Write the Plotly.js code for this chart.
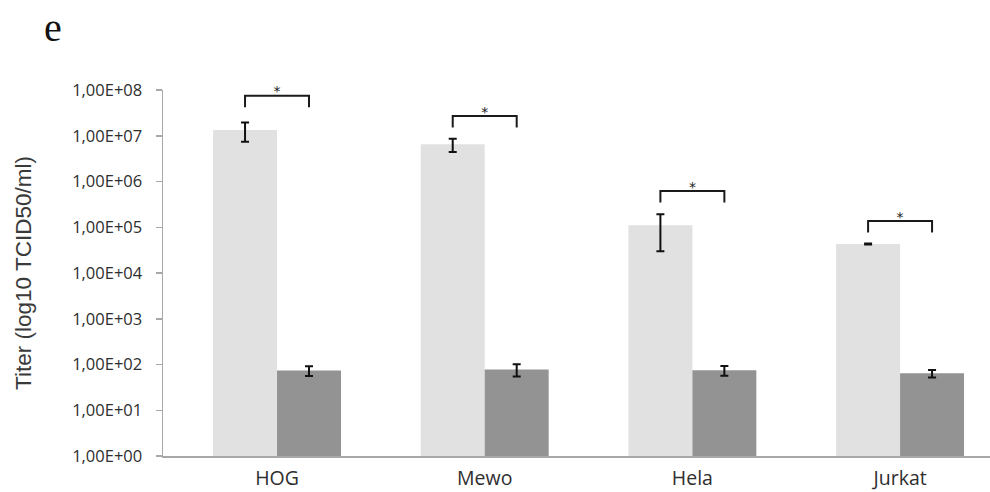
<!DOCTYPE html>
<html>
<head>
<meta charset="utf-8">
<script src="https://cdn.plot.ly/plotly-3.0.1.min.js"></script>
<style>html,body{margin:0;padding:0;background:#fff;}#chart{width:990px;height:492px;}</style>
</head>
<body>
<div id="chart"></div>
<script>
// ---- data ----
const categories = ["HOG", "Mewo", "Hela", "Jurkat"];
const lightValues = [1.34e7, 6.5e6, 1.11e5, 4.3e4];
const lightErrors = [6.0e6, 2.1e6, 8.1e4, 1.0e3];
const darkValues = [74, 78, 75, 64];
const darkErrors = [18, 23, 18, 12];
const sigLevels = [7.5e7, 2.7e7, 6.2e5, 1.37e5];   // heights of the significance brackets
const sigLabels = ["*", "*", "*", "*"];
const yTickVals = [1e0, 1e1, 1e2, 1e3, 1e4, 1e5, 1e6, 1e7, 1e8];
const yTickText = ["1,00E+00", "1,00E+01", "1,00E+02", "1,00E+03", "1,00E+04", "1,00E+05", "1,00E+06", "1,00E+07", "1,00E+08"];

// ---- styling ----
const bargap = 0.384;
const barShift = (1 - bargap) / 4;      // centre offset of each bar within its group
const legDrop = Math.pow(10, 0.25);      // bracket leg length (in decades)
const starLift = Math.pow(10, 0.06);
const xIdx = categories.map((c, i) => i);

const errStyle = (arr) => ({type: 'data', array: arr, visible: true, color: '#111', thickness: 2, width: 4});

const traces = [
  {type: 'bar', x: xIdx, y: lightValues, name: 'light', marker: {color: '#e1e1e1'},
   error_y: errStyle(lightErrors), hoverinfo: 'y'},
  {type: 'bar', x: xIdx, y: darkValues, name: 'dark', marker: {color: '#939393'},
   error_y: errStyle(darkErrors), hoverinfo: 'y'}
];

sigLevels.forEach((lv, i) => {
  traces.push({
    type: 'scatter', mode: 'lines', showlegend: false, hoverinfo: 'skip', cliponaxis: false,
    x: [i - barShift, i - barShift, i + barShift, i + barShift],
    y: [lv / legDrop, lv, lv, lv / legDrop],
    line: {color: '#1a1a1a', width: 2}
  });
});
traces.push({
  type: 'scatter', mode: 'text', showlegend: false, hoverinfo: 'skip', cliponaxis: false,
  x: xIdx, y: sigLevels.map(v => v * starLift), text: sigLabels,
  textposition: 'middle center',
  textfont: {family: 'DejaVu Sans', size: 14, color: '#222'}
});

const layout = {
  width: 990, height: 492,
  margin: {l: 163, r: 0, t: 90, b: 36},
  paper_bgcolor: '#fff', plot_bgcolor: '#fff',
  barmode: 'group', bargap: bargap, bargroupgap: 0,
  showlegend: false,
  xaxis: {
    type: 'linear', range: [-0.549, 3.433],
    tickvals: xIdx, ticktext: categories,
    showgrid: false, zeroline: false,
    showline: true, linecolor: '#a8a8a8', linewidth: 1.5,
    ticks: '', ticklabelstandoff: 4,
    tickfont: {family: 'Open Sans', size: 19.5, color: '#2e2e2e'}
  },
  yaxis: {
    type: 'log', range: [0, 8],
    tickvals: yTickVals, ticktext: yTickText,
    showgrid: false, zeroline: false,
    showline: true, linecolor: '#a8a8a8', linewidth: 1.5,
    ticks: 'outside', ticklen: 6, tickcolor: '#a8a8a8', tickwidth: 1.5,
    ticklabelstandoff: 10,
    tickfont: {family: 'Open Sans', size: 16.5, color: '#2e2e2e'},
    title: {text: 'Titer (log10 TCID50/ml)', standoff: 34,
            font: {family: 'Liberation Sans', size: 22.5, color: '#3a3a3a'}}
  },
  annotations: [{
    text: 'e', xref: 'paper', yref: 'paper', x: -0.146, y: 1.105,
    xanchor: 'left', yanchor: 'bottom', showarrow: false,
    font: {family: 'Liberation Serif', size: 40, color: '#111'}
  }]
};

Plotly.newPlot('chart', traces, layout, {staticPlot: true, displayModeBar: false});
</script>
</body>
</html>
